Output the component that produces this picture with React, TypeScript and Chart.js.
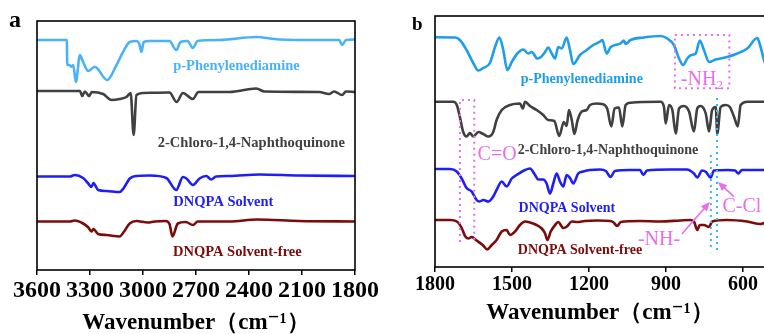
import React, { useEffect, useRef } from 'react';
import { Chart, registerables } from 'chart.js';
Chart.register(...registerables);

// ---------- data (wavenumber cm-1, transmittance a.u. with vertical offsets) ----------
const SERIES_NAMES = ['p-Phenylenediamine', '2-Chloro-1,4-Naphthoquinone', 'DNQPA Solvent', 'DNQPA Solvent-free'];
const TICKS_A = [3600, 3300, 3000, 2700, 2400, 2100, 1800];
const TICKS_B = [1800, 1500, 1200, 900, 600];

const A_PPD: [number, number][] = [[3600,230],[3431,230],[3429,205],[3418,205],[3404,203.3],[3395,205],[3380,188],[3357,215],[3339,208],[3310,199],[3273,203.3],[3203,190],[3150,205],[3113,218],[3075,228],[3037,229],[3021,226],[3009,218],[2996,228],[2962,229],[2850,229],[2812,220],[2787,228],[2748,229],[2718,222],[2691,229],[2567,230],[2359,233],[2229,230.5],[2003,230],[1890,230],[1873,225],[1851,230],[1800,230.5]];
const A_CNQ: [number, number][] = [[3600,179],[3357,179],[3344,174],[3329,178.5],[3305,174],[3290,178],[3226,176],[3178,170],[3132,171],[3094,173],[3070,177],[3053,135],[3037,175],[3000,177],[2850,177.5],[2810,168],[2774,177],[2718,171],[2686,178],[2511,178],[2359,181.5],[2313,178.5],[2003,178],[1947,176],[1918,178.5],[1873,175],[1851,178.5],[1800,178]];
const A_SOLV: [number, number][] = [[3600,93.5],[3414,93.5],[3386,95],[3339,92],[3312,87],[3291,83],[3281,87],[3254,80],[3207,79],[3132,78],[3109,82],[3075,91.5],[3037,94],[2962,94.5],[2868,92],[2812,80],[2774,93],[2754,91.5],[2717,85],[2680,91.5],[2642,94],[2614,90.5],[2586,93.5],[2511,94],[2342,95.5],[2116,94.5],[1800,94]];
const A_FREE: [number, number][] = [[3600,48.5],[3414,48.5],[3386,49.5],[3339,46.5],[3312,43],[3291,38.5],[3281,41],[3254,36],[3207,35],[3132,33.5],[3109,38],[3075,46.5],[3037,49],[2974,47.5],[2934,48.5],[2872,49],[2850,46],[2833,33.5],[2803,46.5],[2759,48],[2717,45],[2690,48.5],[2511,48.5],[2353,50.5],[2116,49],[1800,48.5]];

const B_PPD: [number, number][] = [[1800,229.7],[1793,229.7],[1722,229.5],[1703,227],[1677,217],[1651,204],[1631,196.5],[1612,199],[1586,204],[1566,220],[1549,229.5],[1534,217],[1518,197],[1501,205],[1479,213.5],[1456,217.5],[1437,213.5],[1423,215],[1401,208.5],[1387,210],[1371,215],[1359,219.5],[1345,213.5],[1332,208.5],[1320,220],[1306,218.5],[1287,229.5],[1274,217],[1261,203],[1235,212],[1209,217],[1183,222],[1157,225.3],[1148,227],[1131,213.5],[1115,220],[1077,223.5],[1064,226.5],[1057,223],[1038,227],[986,229.5],[921,231],[895,228.5],[869,222],[849,208.5],[833,202],[817,208.5],[801,212],[784,213.5],[768,226.5],[752,217],[732,205],[706,207.5],[661,210],[622,213.5],[583,218.5],[544,229],[531,220],[518,207],[500,195]];
const B_CNQ: [number, number][] = [[1800,165.3],[1729,165.3],[1715,162],[1703,150],[1690,135],[1677,130.5],[1664,134],[1651,130.5],[1631,135],[1612,133],[1592,130.5],[1573,135],[1560,147],[1540,157],[1508,162],[1469,163.5],[1458,158.5],[1449,165.3],[1430,161],[1404,157],[1378,152],[1359,147],[1335,146],[1316,131],[1298,145],[1287,141],[1278,157],[1267,147],[1257,133],[1244,147],[1228,155.5],[1209,157],[1196,162],[1170,163.5],[1149,163],[1129,158.5],[1113,140.5],[1100,158.5],[1083,159.5],[1070,140.5],[1057,162],[1038,164.3],[921,165.3],[908,160.5],[901,143.5],[888,162],[875,157],[862,133.5],[849,158.5],[830,161],[810,155.5],[791,135.5],[778,158.5],[765,161],[745,153.5],[732,135.5],[720,157],[706,160],[700,133.5],[687,160],[667,162],[651,160],[635,150.5],[620,140.5],[609,162],[583,165.3],[518,165.3],[500,165.3]];
const B_SOLV: [number, number][] = [[1800,98],[1742,98],[1715,95.5],[1696,88.5],[1677,79],[1657,75.5],[1638,67],[1627,65.5],[1612,67],[1592,65.5],[1573,70.5],[1560,77],[1540,85.5],[1521,80.5],[1501,88.5],[1482,92],[1449,97],[1430,98.5],[1410,92],[1398,87.5],[1378,87.5],[1365,83.5],[1352,73.5],[1339,83.5],[1326,93.5],[1313,85.5],[1300,80.5],[1287,92],[1274,89],[1261,83.5],[1242,93.5],[1222,95.5],[1196,97],[1157,97.5],[1134,96],[1116,90],[1099,96],[1040,97],[1001,97],[988,92],[974,96.5],[884,97.5],[818,97.5],[791,93.5],[778,89.5],[759,96.5],[744,95],[726,89.5],[713,96.5],[658,97],[631,96.5],[618,93.5],[604,97],[518,97],[500,97]];
const B_FREE: [number, number][] = [[1800,47],[1742,47],[1715,45.5],[1696,39],[1683,31],[1670,28.5],[1657,30],[1638,26.5],[1614,22],[1596,17.5],[1579,22],[1560,27],[1540,35.5],[1521,37],[1508,32],[1488,35.5],[1469,42],[1449,45.5],[1430,44.5],[1404,42],[1384,38.5],[1371,33.5],[1362,27],[1349,35.5],[1332,42],[1320,45],[1300,39],[1286,40.5],[1267,45.5],[1246,45],[1216,46],[1169,46.5],[1118,46],[1106,45],[1090,41],[1076,45],[1001,46],[923,45.5],[845,46.5],[807,47],[791,45.5],[778,37],[768,42],[752,42],[732,40],[720,45.5],[662,47],[584,45.5],[531,43],[518,44],[500,45]];

// ---------- styles ----------
const SERIF = "'Times New Roman', 'Liberation Serif', 'DejaVu Serif', serif";
const GRAY = '#404040';
const BLUE = '#1E1EF5';
const RED = '#7B0C0C';
const PPD_A = '#4AB3F7';
const PPD_B = '#1E9DEB';
const MAGENTA = '#E86CF0';
const CYAN = '#3DB9F2';

type Label = { text: string; x: number; y: number; color: string; font: string };

function drawArrow(ctx: CanvasRenderingContext2D, x1: number, y1: number, x2: number, y2: number, color: string) {
  const ang = Math.atan2(y2 - y1, x2 - x1);
  const hl = 9, hw = 4;
  ctx.save();
  ctx.strokeStyle = color; ctx.fillStyle = color; ctx.lineWidth = 1.6; ctx.setLineDash([]);
  ctx.beginPath();
  ctx.moveTo(x1, y1);
  ctx.lineTo(x2 - Math.cos(ang) * hl * 0.8, y2 - Math.sin(ang) * hl * 0.8);
  ctx.stroke();
  ctx.beginPath();
  ctx.moveTo(x2, y2);
  ctx.lineTo(x2 - Math.cos(ang) * hl - Math.sin(ang) * hw, y2 - Math.sin(ang) * hl + Math.cos(ang) * hw);
  ctx.lineTo(x2 - Math.cos(ang) * hl + Math.sin(ang) * hw, y2 - Math.sin(ang) * hl - Math.cos(ang) * hw);
  ctx.closePath();
  ctx.fill();
  ctx.restore();
}

function makePlugin(labels: Label[], extra?: (chart: any, px: (v: number) => number, py: (v: number) => number) => void) {
  return {
    id: 'notes',
    afterDatasetsDraw(chart: any) {
      const { ctx, chartArea } = chart;
      const px = (v: number) => chart.scales.x.getPixelForValue(v);
      const py = (v: number) => chart.scales.y.getPixelForValue(v);
      ctx.save();
      ctx.strokeStyle = '#000';
      ctx.lineWidth = 1.6;
      ctx.strokeRect(chartArea.left, chartArea.top, chartArea.right - chartArea.left, chartArea.bottom - chartArea.top);
      ctx.textAlign = 'center';
      ctx.textBaseline = 'middle';
      for (const l of labels) {
        ctx.font = l.font;
        ctx.fillStyle = l.color;
        ctx.fillText(l.text, px(l.x), py(l.y));
      }
      ctx.restore();
      if (extra) extra(chart, px, py);
    },
  };
}

function ds(data: [number, number][], color: string) {
  return {
    data: data.map(([x, y]) => ({ x, y })),
    borderColor: color,
    borderWidth: 2.6,
    pointRadius: 0,
    fill: false,
    cubicInterpolationMode: 'monotone' as const,
  };
}

function baseOptions(p: {
  min: number; max: number; ymax: number; ticks: number[]; tickSize: number; axisH: number;
  pad: { left: number; right: number; top: number }; titleBottom: number; tickPad: number;
}) {
  return {
    responsive: false,
    animation: false as const,
    events: [] as any[],
    layout: { padding: { left: p.pad.left, right: p.pad.right, top: p.pad.top, bottom: 0 } },
    plugins: { legend: { display: false }, tooltip: { enabled: false } },
    scales: {
      x: {
        type: 'linear' as const,
        reverse: true,
        min: p.min,
        max: p.max,
        afterBuildTicks: (s: any) => { s.ticks = p.ticks.map((v) => ({ value: v })); },
        afterFit: (s: any) => { s.height = p.axisH; },
        border: { display: false },
        grid: { display: true, drawOnChartArea: false, drawTicks: true, tickLength: 5, color: '#000', lineWidth: 1.5 },
        ticks: {
          color: '#000',
          padding: p.tickPad,
          maxRotation: 0,
          autoSkip: false,
          font: { family: SERIF, size: p.tickSize, weight: 'bold' as const },
          callback: (v: any) => String(v),
        },
        title: {
          display: true,
          text: 'Wavenumber（cm⁻¹）',
          color: '#000',
          font: { family: SERIF, size: 23, weight: 'bold' as const, lineHeight: 1.2 },
          padding: { top: 0, bottom: p.titleBottom },
        },
      },
      y: { display: false, min: 0, max: p.ymax },
    },
  };
}

function PanelA() {
  const ref = useRef<HTMLCanvasElement>(null);
  useEffect(() => {
    const bold = `bold 14.5px ${SERIF}`;
    const labels: Label[] = [
      { text: SERIES_NAMES[0], x: 2471, y: 204, color: PPD_A, font: bold },
      { text: SERIES_NAMES[1], x: 2387, y: 127, color: GRAY, font: bold },
      { text: SERIES_NAMES[2], x: 2545, y: 67.3, color: BLUE, font: bold },
      { text: SERIES_NAMES[3], x: 2466, y: 17.3, color: RED, font: bold },
    ];
    const chart = new Chart(ref.current!, {
      type: 'line',
      data: { datasets: [ds(A_PPD, PPD_A), ds(A_CNQ, GRAY), ds(A_SOLV, BLUE), ds(A_FREE, RED)] as any },
      options: baseOptions({
        min: 1800, max: 3600, ymax: 249, ticks: TICKS_A, tickSize: 24, axisH: 80,
        pad: { left: 37, right: 24, top: 21 }, titleBottom: 13, tickPad: 1,
      }) as any,
      plugins: [makePlugin(labels)],
    });
    return () => chart.destroy();
  }, []);
  return <canvas ref={ref} width={380} height={350} style={{ position: 'absolute', left: 0, top: 0 }} />;
}

function PanelB() {
  const ref = useRef<HTMLCanvasElement>(null);
  useEffect(() => {
    const bold = `bold 14px ${SERIF}`;
    const note = `20px ${SERIF}`;
    const labels: Label[] = [
      { text: SERIES_NAMES[0], x: 1228, y: 187.7, color: PPD_B, font: bold },
      { text: SERIES_NAMES[1], x: 1126, y: 116.3, color: GRAY, font: bold },
      { text: SERIES_NAMES[2], x: 1286, y: 58.7, color: BLUE, font: bold },
      { text: SERIES_NAMES[3], x: 1235, y: 16.3, color: RED, font: bold },
      { text: 'C=O', x: 1558, y: 112, color: MAGENTA, font: note },
      { text: 'C-Cl', x: 604, y: 60, color: MAGENTA, font: note },
      { text: '-NH-', x: 927, y: 27, color: MAGENTA, font: note },
    ];
    const extra = (chart: any, px: (v: number) => number, py: (v: number) => number) => {
      const ctx: CanvasRenderingContext2D = chart.ctx;
      ctx.save();
      ctx.lineWidth = 2;
      ctx.setLineDash([2, 4]);
      // C=O dotted bracket
      ctx.strokeStyle = MAGENTA;
      ctx.beginPath();
      ctx.moveTo(px(1703), py(25)); ctx.lineTo(px(1703), py(167)); ctx.lineTo(px(1647), py(167)); ctx.lineTo(px(1647), py(25));
      ctx.stroke();
      // -NH2 dotted box
      ctx.strokeRect(px(865), py(232), px(653) - px(865), py(178.7) - py(232));
      // C-Cl / -NH- dotted guides
      ctx.strokeStyle = CYAN;
      ctx.beginPath();
      ctx.moveTo(px(725), py(112)); ctx.lineTo(px(725), py(17));
      ctx.moveTo(px(701), py(169)); ctx.lineTo(px(701), py(15));
      ctx.stroke();
      ctx.setLineDash([]);
      // -NH2 text with subscript
      const cx = px(760), cy = py(189);
      ctx.fillStyle = MAGENTA;
      ctx.textBaseline = 'alphabetic';
      ctx.textAlign = 'left';
      ctx.font = note;
      const w1 = ctx.measureText('-NH').width;
      ctx.font = `13px ${SERIF}`;
      const w2 = ctx.measureText('2').width;
      const sx = cx - (w1 + w2) / 2;
      ctx.font = note;
      ctx.fillText('-NH', sx, cy + 7);
      ctx.font = `13px ${SERIF}`;
      ctx.fillText('2', sx + w1, cy + 11);
      ctx.restore();
      drawArrow(ctx, px(635), py(70.3), px(697), py(85), MAGENTA);
      drawArrow(ctx, px(838), py(33), px(729), py(65), MAGENTA);
    };
    const chart = new Chart(ref.current!, {
      type: 'line',
      data: { datasets: [ds(B_PPD, PPD_B), ds(B_CNQ, GRAY), ds(B_SOLV, BLUE), ds(B_FREE, RED)] as any },
      options: baseOptions({
        min: 514, max: 1800, ymax: 251, ticks: TICKS_B, tickSize: 20, axisH: 83,
        pad: { left: 55, right: 1, top: 16 }, titleBottom: 23, tickPad: 1,
      }) as any,
      plugins: [makePlugin(labels, extra)],
    });
    return () => chart.destroy();
  }, []);
  return <canvas ref={ref} width={386} height={350} style={{ position: 'absolute', left: 380, top: 0 }} />;
}

export default function App() {
  return (
    <div style={{ position: 'fixed', left: 0, top: 0, width: 764, height: 334, overflow: 'hidden', background: '#fff' }}>
      <PanelA />
      <PanelB />
      <span style={{ position: 'absolute', left: 9, top: 5, font: `bold 24px ${SERIF}`, color: '#000', lineHeight: '28px' }}>a</span>
      <span style={{ position: 'absolute', left: 412, top: 13, font: `bold 19px ${SERIF}`, color: '#000', lineHeight: '22px' }}>b</span>
    </div>
  );
}
